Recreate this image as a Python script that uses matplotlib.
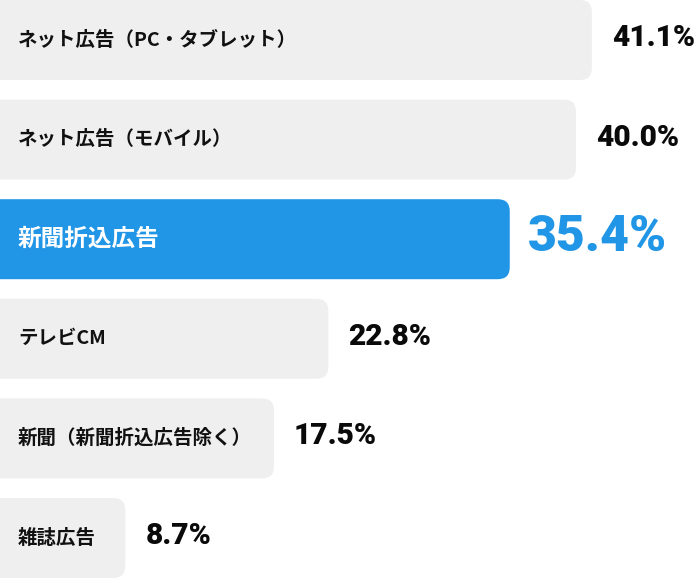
import matplotlib
matplotlib.use('Agg')
import matplotlib.pyplot as plt
from matplotlib.patches import FancyBboxPatch

plt.rcParams['font.family'] = ['Noto Sans CJK JP', 'DejaVu Sans']

# data
labels = ['ネット広告（PC・タブレット）', 'ネット広告（モバイル）', '新聞折込広告',
          'テレビCM', '新聞（新聞折込広告除く）', '雑誌広告']
values = [41.1, 40.0, 35.4, 22.8, 17.5, 8.7]
highlight = '新聞折込広告'

W, H = 698, 578
px_x = 14.4    # pixels per percent
px_y = 99.6    # pixels per row
grey = '#efefef'
blue = '#2196e6'

fig = plt.figure(figsize=(W/100, H/100), dpi=100)
ax = fig.add_axes([0, 0, 1, 1])
ax.set_xlim(0, W/px_x)
ax.set_ylim(len(values) - 1 + 40/px_y, -40/px_y)
ax.axis('off')

fig.canvas.draw()
renderer = fig.canvas.get_renderer()

bh = 80/px_y
rad = 12/px_x
for i, (lab, v) in enumerate(zip(labels, values)):
    hi = lab == highlight
    t = ax.text(18/px_x, i, lab, ha='left', va='center',
                fontsize=17 if hi else 14, fontweight='bold',
                color='white' if hi else '#111111')
    # bar never narrower than its label
    bb = t.get_window_extent(renderer)
    w = max(v, (bb.x1 + 22)/px_x)
    bars = ax.barh(i, w, height=bh, color='none')
    r = bars[0]
    p = FancyBboxPatch((r.get_x() - rad*2, r.get_y()), r.get_width() + rad*2, r.get_height(),
                       boxstyle='round,pad=0,rounding_size=%f' % rad,
                       mutation_aspect=px_x/px_y,
                       fc=blue if hi else grey, ec='none', zorder=1)
    ax.add_patch(p)
    t.set_zorder(3)
    ax.text(w + (18 if hi else 20)/px_x, i - 0.02, '%.1f%%' % v, ha='left', va='center',
            fontsize=36 if hi else 21.5, fontweight='black',
            family=['Roboto', 'DejaVu Sans'],
            color=blue if hi else '#0a0a0a', zorder=3)

fig.savefig('out.png', dpi=100)
